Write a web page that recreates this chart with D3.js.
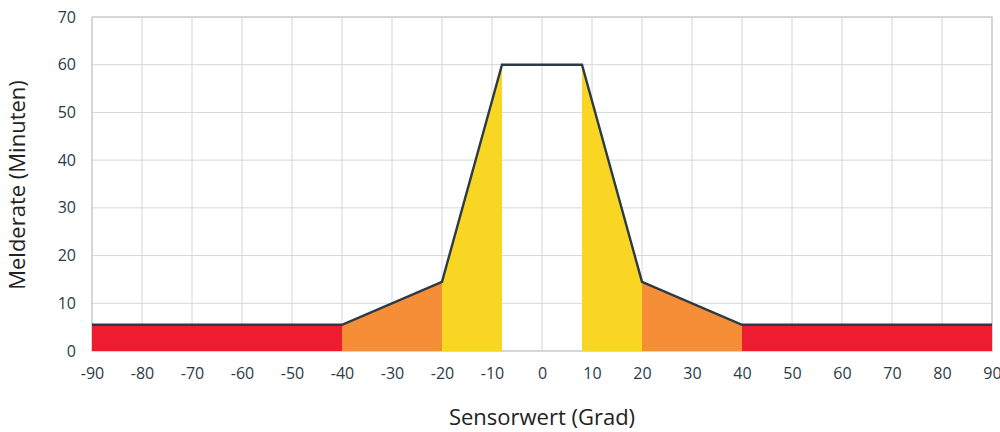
<!DOCTYPE html>
<html>
<head>
<meta charset="utf-8">
<script src="https://cdn.jsdelivr.net/npm/d3@7"></script>
<style>
  body { margin: 0; background: #fff; }
  svg text { font-family: "Open Sans", "Noto Sans", sans-serif; }
</style>
</head>
<body>
<script>
// Profile of the curve (Sensorwert -> Melderate)
const profileX = [-90, -40, -20, -8, 8, 20, 40, 90];
const profileY = [5.5, 5.5, 14.5, 60, 60, 14.5, 5.5, 5.5];

// Coloured zones under the curve
const zoneStart = [-90, -40, -20, 8, 20, 40];
const zoneEnd = [-40, -20, -8, 20, 40, 90];
const zoneColors = ['#ed1c2e', '#f68e38', '#f9d624', '#f9d624', '#f68e38', '#ed1c2e'];

const xTicks = d3.range(-90, 91, 10);
const yTicks = d3.range(0, 71, 10);

const width = 1000;
const height = 432;
const margin = { top: 17, right: 8, bottom: 81, left: 92 };
const innerWidth = width - margin.left - margin.right;
const innerHeight = height - margin.top - margin.bottom;

const svg = d3.select('body')
  .append('svg')
  .attr('width', width)
  .attr('height', height);

const chart = svg.append('g')
  .attr('transform', `translate(${margin.left}, ${margin.top})`);

const xScale = d3.scaleLinear().domain([-90, 90]).range([0, innerWidth]);
const yScale = d3.scaleLinear().domain([0, 70]).range([innerHeight, 0]);

const points = profileX.map((x, i) => ({ x, y: profileY[i] }));
const valueAt = x => {
  for (let i = 0; i < points.length - 1; i++) {
    const a = points[i], b = points[i + 1];
    if (x >= a.x && x <= b.x) return a.y + (b.y - a.y) * (x - a.x) / (b.x - a.x);
  }
  return 0;
};

// grid
chart.append('g')
  .selectAll('line')
  .data(xTicks)
  .enter()
  .append('line')
  .attr('x1', d => xScale(d)).attr('x2', d => xScale(d))
  .attr('y1', 0).attr('y2', innerHeight)
  .attr('stroke', '#d6d6d9').attr('stroke-width', 1);

chart.append('g')
  .selectAll('line')
  .data(yTicks)
  .enter()
  .append('line')
  .attr('x1', 0).attr('x2', innerWidth)
  .attr('y1', d => yScale(d)).attr('y2', d => yScale(d))
  .attr('stroke', '#d6d6d9').attr('stroke-width', 1);

// frame
chart.append('rect')
  .attr('x', 0).attr('y', 0)
  .attr('width', innerWidth).attr('height', innerHeight)
  .attr('fill', 'none')
  .attr('stroke', '#c8c8cc').attr('stroke-width', 1.2);

// zones
const area = d3.area()
  .x(d => xScale(d.x))
  .y0(yScale(0))
  .y1(d => yScale(d.y));

zoneStart.forEach((s, i) => {
  const e = zoneEnd[i];
  const pts = [s, ...profileX.filter(x => x > s && x < e), e].map(x => ({ x, y: valueAt(x) }));
  chart.append('path')
    .datum(pts)
    .attr('d', area)
    .attr('fill', zoneColors[i]);
});

// outline
const line = d3.line()
  .x(d => xScale(d.x))
  .y(d => yScale(d.y));

chart.append('path')
  .datum(points)
  .attr('d', line)
  .attr('fill', 'none')
  .attr('stroke', '#2c3a45')
  .attr('stroke-width', 2.4)
  .attr('stroke-linejoin', 'miter');

// axes (plain hyphen for negatives, as in the original)
const xAxis = d3.axisBottom(xScale).tickValues(xTicks).tickFormat(d => String(d)).tickSize(0).tickPadding(17);
const yAxis = d3.axisLeft(yScale).tickValues(yTicks).tickFormat(d => String(d)).tickSize(0).tickPadding(16);

const gx = chart.append('g')
  .attr('transform', `translate(0, ${innerHeight})`)
  .call(xAxis);
const gy = chart.append('g').call(yAxis);

[gx, gy].forEach(g => {
  g.select('.domain').remove();
  g.selectAll('text')
    .attr('fill', '#2b3a47')
    .style('font-size', '16px');
});

// titles
svg.append('text')
  .attr('x', margin.left + xScale(0))
  .attr('y', 425)
  .attr('text-anchor', 'middle')
  .attr('fill', '#222')
  .style('font-size', '22px')
  .text('Sensorwert (Grad)');

svg.append('text')
  .attr('transform', `translate(25, 185) rotate(-90)`)
  .attr('text-anchor', 'middle')
  .attr('fill', '#222')
  .style('font-size', '22px')
  .text('Melderate (Minuten)');
</script>
</body>
</html>
